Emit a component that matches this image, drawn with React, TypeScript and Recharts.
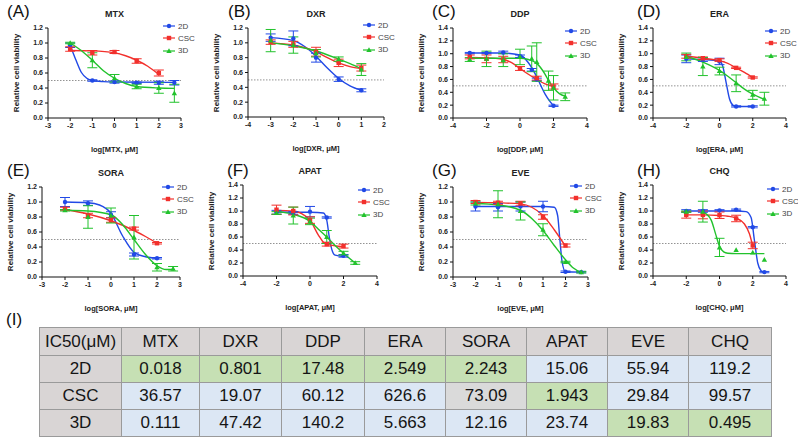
import React from "react";
import { ComposedChart, Line, Scatter, ErrorBar, XAxis, YAxis, ReferenceLine } from "recharts";

const BLUE = "#2149e6";
const RED = "#f2302c";
const GREEN = "#22c22c";
const FONT = '"Liberation Sans", Arial, sans-serif';

const groups = ["2D", "CSC", "3D"];

// measured points: [log dose, viability, sd]
const mtx2D = [[-2, 0.97, 0.03], [-1, 0.5, 0.01], [0, 0.48, 0.015], [1, 0.47, 0.01], [2, 0.47, 0.02], [2.7, 0.47, 0.03]];
const mtxCSC = [[-2, 0.92, 0.03], [-1, 0.87, 0.03], [0, 0.88, 0.02], [1, 0.76, 0.03], [2, 0.6, 0.04]];
const mtx3D = [[-2, 1.0, 0.01], [-1, 0.77, 0.1], [0, 0.53, 0.05], [1, 0.42, 0.03], [2, 0.4, 0.07], [2.7, 0.33, 0.12]];
const dxr2D = [[-3, 1.07, 0.05], [-2, 1.06, 0.1], [-1, 0.8, 0.06], [0, 0.51, 0.03], [1, 0.36, 0.02]];
const dxrCSC = [[-3, 1.01, 0.03], [-2, 0.98, 0.04], [-1, 0.88, 0.06], [0, 0.73, 0.05], [1, 0.66, 0.04]];
const dxr3D = [[-3, 1.03, 0.15], [-2, 0.97, 0.11], [-1, 0.86, 0.05], [0, 0.78, 0.03], [1, 0.64, 0.08]];
const ddp2D = [[-3, 1.01, 0.01], [-2, 1.01, 0.01], [-1, 1.02, 0.02], [0, 0.96, 0.02], [0.7, 0.75, 0.02], [1, 0.6, 0.02], [2, 0.19, 0.01]];
const ddpCSC = [[-3, 0.95, 0.03], [-2, 0.92, 0.06], [-1, 0.91, 0.05], [0, 0.77, 0.03], [1, 0.62, 0.03], [2, 0.49, 0.04]];
const ddp3D = [[-3, 0.91, 0.03], [-2, 0.92, 0.12], [-1, 0.9, 0.1], [0, 0.95, 0.12], [0.7, 0.92, 0.2], [1, 0.87, 0.3], [1.7, 0.58, 0.15], [2, 0.47, 0.19], [2.7, 0.33, 0.06]];
const era2D = [[-2, 0.92, 0.06], [-1, 0.91, 0.03], [0, 0.88, 0.05], [1, 0.18, 0.01], [2, 0.18, 0.01]];
const eraCSC = [[-2, 0.96, 0.03], [-1, 0.93, 0.02], [0, 0.9, 0.02], [1, 0.78, 0.01], [2, 0.63, 0.01]];
const era3D = [[-2, 0.95, 0.06], [-1, 0.8, 0.14], [0, 0.73, 0.06], [1, 0.54, 0.13], [2, 0.36, 0.07], [2.7, 0.3, 0.1]];
const sora2D = [[-2, 1.0, 0.06], [-1, 0.985, 0.03], [0, 0.83, 0.04], [1, 0.3, 0.02], [2, 0.25, 0.01]];
const soraCSC = [[-2, 0.91, 0.02], [-1, 0.82, 0.03], [0, 0.76, 0.03], [1, 0.645, 0.02], [2, 0.45, 0.01]];
const sora3D = [[-2, 0.89, 0.01], [-1, 0.8, 0.15], [0, 0.82, 0.1], [1, 0.53, 0.29], [2, 0.13, 0.05], [2.7, 0.11, 0.03]];
const apat2D = [[-2, 0.98, 0.03], [-1, 0.97, 0.02], [0, 0.99, 0.08], [1, 0.9, 0.01], [2, 0.31, 0.02]];
const apatCSC = [[-2, 1.02, 0.07], [-1, 1.0, 0.06], [0, 0.86, 0.05], [1, 0.49, 0.03], [2, 0.46, 0.03]];
const apat3D = [[-2, 0.97, 0.02], [-1, 0.93, 0.13], [0, 0.84, 0.05], [1, 0.6, 0.1], [2, 0.35, 0.03], [2.7, 0.2, 0.02]];
const eve2D = [[-2, 0.94, 0.06], [-1, 0.93, 0.05], [0, 0.94, 0.06], [1, 0.94, 0.07], [2, 0.07, 0.01], [2.7, 0.065, 0.01]];
const eveCSC = [[-2, 1.0, 0.02], [-1, 0.99, 0.02], [0, 0.98, 0.03], [1, 0.8, 0.03], [2, 0.42, 0.02]];
const eve3D = [[-2, 0.98, 0.02], [-1, 0.97, 0.18], [0, 0.88, 0.12], [1, 0.63, 0.08], [2, 0.2, 0.01], [2.7, 0.065, 0.01]];
const chq2D = [[-2, 1.0, 0.02], [-1, 1.0, 0.02], [0, 1.01, 0.01], [1, 1.02, 0.01], [2, 0.75, 0.01], [2.7, 0.06, 0.01]];
const chqCSC = [[-2, 0.94, 0.05], [-1, 0.94, 0.06], [0, 0.935, 0.05], [1, 0.885, 0.05], [2, 0.47, 0.05]];
const chq3D = [[-2, 0.99, 0.01], [-1, 0.99, 0.16], [0, 0.44, 0.14], [1, 0.4, 0], [2, 0.36, 0], [2.7, 0.25, 0]];

// fitted curves as they appear in the figure: [log dose, viability]
const mtx2DFit = [[-2, 0.97], [-1.75, 0.78], [-1.5, 0.61], [-1.25, 0.53], [-1, 0.5], [-0.5, 0.485], [0, 0.48], [2.7, 0.475]];
const mtxCSCFit = [[-2, 0.9], [-1, 0.895], [0, 0.87], [0.5, 0.83], [1, 0.77], [1.5, 0.69], [2, 0.58]];
const mtx3DFit = [[-2, 1.0], [-1.5, 0.9], [-1, 0.77], [-0.5, 0.63], [0, 0.53], [0.5, 0.46], [1, 0.42], [2, 0.4], [2.7, 0.395]];
const dxr2DFit = [[-3, 1.07], [-2, 1.03], [-1.5, 0.95], [-1, 0.82], [-0.5, 0.66], [0, 0.52], [0.5, 0.42], [1, 0.36]];
const dxrCSCFit = [[-3, 1.0], [-2, 0.97], [-1, 0.88], [-0.5, 0.8], [0, 0.73], [0.5, 0.68], [1, 0.655]];
const dxr3DFit = [[-3, 1.0], [-2, 0.96], [-1, 0.89], [0, 0.78], [0.5, 0.72], [1, 0.65]];
const ddp2DFit = [[-3, 1.01], [-1, 1.01], [0, 0.98], [0.5, 0.86], [1, 0.64], [1.25, 0.5], [1.5, 0.37], [1.75, 0.27], [2, 0.19]];
const ddpCSCFit = [[-3, 0.94], [-2, 0.935], [-1, 0.91], [-0.5, 0.86], [0, 0.77], [0.5, 0.68], [1, 0.6], [1.5, 0.53], [2, 0.49]];
const ddp3DFit = [[-3, 0.93], [0, 0.93], [0.5, 0.91], [1, 0.85], [1.5, 0.68], [1.75, 0.56], [2, 0.47], [2.35, 0.38], [2.7, 0.34]];
const era2DFit = [[-2, 0.92], [-1, 0.91], [0, 0.89], [0.2, 0.8], [0.4, 0.55], [0.6, 0.3], [0.8, 0.2], [1, 0.18], [2, 0.18]];
const eraCSCFit = [[-2, 0.96], [-1, 0.93], [0, 0.89], [0.5, 0.85], [1, 0.78], [1.5, 0.71], [2, 0.63]];
const era3DFit = [[-2, 0.96], [-1, 0.87], [0, 0.74], [0.5, 0.65], [1, 0.55], [1.5, 0.45], [2, 0.37], [2.7, 0.29]];
const sora2DFit = [[-2, 1.0], [-1, 0.99], [-0.5, 0.96], [0, 0.85], [0.5, 0.55], [1, 0.33], [1.5, 0.27], [2, 0.25]];
const soraCSCFit = [[-2, 0.9], [-1, 0.84], [0, 0.75], [1, 0.62], [1.5, 0.54], [2, 0.45]];
const sora3DFit = [[-2, 0.89], [-1, 0.88], [0, 0.83], [0.5, 0.7], [1, 0.5], [1.5, 0.3], [2, 0.15], [2.4, 0.1], [2.7, 0.1]];
const apat2DFit = [[-2, 0.985], [0, 0.98], [0.8, 0.97], [1, 0.86], [1.15, 0.6], [1.3, 0.41], [1.5, 0.32], [2, 0.3]];
const apatCSCFit = [[-2, 1.01], [-1, 1.0], [-0.5, 0.96], [0, 0.86], [0.5, 0.63], [0.8, 0.52], [1, 0.49], [2, 0.45]];
const apat3DFit = [[-2, 0.99], [-1, 0.95], [0, 0.84], [0.5, 0.72], [1, 0.6], [1.5, 0.47], [2, 0.35], [2.7, 0.2]];
const eve2DFit = [[-2, 0.94], [1, 0.94], [1.5, 0.93], [1.65, 0.82], [1.75, 0.5], [1.85, 0.2], [2, 0.07], [2.7, 0.065]];
const eveCSCFit = [[-2, 0.995], [-1, 0.99], [0, 0.975], [0.5, 0.93], [1, 0.82], [1.5, 0.63], [2, 0.41]];
const eve3DFit = [[-2, 0.98], [-1, 0.96], [0, 0.89], [0.5, 0.78], [1, 0.62], [1.5, 0.42], [2, 0.23], [2.35, 0.12], [2.7, 0.06]];
const chq2DFit = [[-2, 1.0], [1, 1.0], [1.6, 0.99], [1.9, 0.9], [2.1, 0.55], [2.3, 0.2], [2.5, 0.08], [2.7, 0.05]];
const chqCSCFit = [[-2, 0.94], [-1, 0.94], [0, 0.93], [0.5, 0.92], [1, 0.89], [1.5, 0.8], [1.8, 0.65], [2, 0.46]];
const chq3DFit = [[-1, 0.99], [-0.5, 0.86], [-0.25, 0.66], [0, 0.46], [0.25, 0.37], [0.5, 0.35], [1, 0.345], [2.7, 0.345]];

// IC50 table
const drugs = ["MTX", "DXR", "DDP", "ERA", "SORA", "APAT", "EVE", "CHQ"];
const ic2D = ["0.018", "0.801", "17.48", "2.549", "2.243", "15.06", "55.94", "119.2"];
const icCSC = ["36.57", "19.07", "60.12", "626.6", "73.09", "1.943", "29.84", "99.57"];
const ic3D = ["0.111", "47.42", "140.2", "5.663", "12.16", "23.74", "19.83", "0.495"];
const shade2D = ["g", "g", "g", "g", "g", "b", "b", "b"];
const shadeCSC = ["b", "b", "b", "b", "x", "g", "b", "b"];
const shade3D = ["b", "b", "b", "b", "b", "b", "g", "g"];

const toPts = (a: number[][]) => a.map(([x, y, err]) => ({ x, y, err }));
const toFit = (a: number[][]) => a.map(([x, y]) => ({ x, y }));

const colors = [BLUE, RED, GREEN];

const Marker = ({ kind, cx, cy }: any) => {
  if (kind === 0) return <circle cx={cx} cy={cy} r={2.2} fill={BLUE} />;
  if (kind === 1) return <rect x={cx - 2.2} y={cy - 2.2} width={4.4} height={4.4} fill={RED} />;
  return <polygon points={`${cx},${cy - 2.8} ${cx - 2.7},${cy + 2} ${cx + 2.7},${cy + 2}`} fill={GREEN} />;
};

const panels = [
  { tag: "(A)", drug: "MTX", tagPos: [7, 3], plot: [48, 28, 133, 90], yMax: 1.2, xd: [-3, 3], xt: [-3, -2, -1, 0, 1, 2, 3], leg: [163, 26], s: [[mtx2D, mtx2DFit], [mtxCSC, mtxCSCFit], [mtx3D, mtx3DFit]] },
  { tag: "(B)", drug: "DXR", tagPos: [228, 3], plot: [248, 28, 136, 89], yMax: 1.2, xd: [-4, 2], xt: [-4, -3, -2, -1, 0, 1, 2], leg: [363, 25], s: [[dxr2D, dxr2DFit], [dxrCSC, dxrCSCFit], [dxr3D, dxr3DFit]] },
  { tag: "(C)", drug: "DDP", tagPos: [432, 3], plot: [453, 28, 134, 90], yMax: 1.4, xd: [-4, 4], xt: [-4, -2, 0, 2, 4], leg: [565, 31], s: [[ddp2D, ddp2DFit], [ddpCSC, ddpCSCFit], [ddp3D, ddp3DFit]] },
  { tag: "(D)", drug: "ERA", tagPos: [637, 3], plot: [653, 28, 133, 90], yMax: 1.4, xd: [-4, 4], xt: [-4, -2, 0, 2, 4], leg: [765, 31], s: [[era2D, era2DFit], [eraCSC, eraCSCFit], [era3D, era3DFit]] },
  { tag: "(E)", drug: "SORA", tagPos: [7, 162], plot: [42, 187, 138, 90], yMax: 1.2, xd: [-3, 3], xt: [-3, -2, -1, 0, 1, 2, 3], leg: [162, 187], s: [[sora2D, sora2DFit], [soraCSC, soraCSCFit], [sora3D, sora3DFit]] },
  { tag: "(F)", drug: "APAT", tagPos: [227, 162], plot: [243, 185, 134, 91], yMax: 1.4, xd: [-4, 4], xt: [-4, -2, 0, 2, 4], leg: [358, 190], s: [[apat2D, apat2DFit], [apatCSC, apatCSCFit], [apat3D, apat3DFit]] },
  { tag: "(G)", drug: "EVE", tagPos: [432, 162], plot: [453, 187, 135, 90], yMax: 1.2, xd: [-3, 3], xt: [-3, -2, -1, 0, 1, 2, 3], leg: [570, 186], s: [[eve2D, eve2DFit], [eveCSC, eveCSCFit], [eve3D, eve3DFit]] },
  { tag: "(H)", drug: "CHQ", tagPos: [637, 162], plot: [653, 185, 133, 91], yMax: 1.4, xd: [-4, 4], xt: [-4, -2, 0, 2, 4], leg: [767, 189], s: [[chq2D, chq2DFit], [chqCSC, chqCSCFit], [chq3D, chq3DFit]] },
];

const tickStyle = { fontSize: 7, fill: "#222", fontWeight: 700, fontFamily: FONT };

function Panel({ p }: any) {
  const [px, py, pw, ph] = p.plot;
  const yTicks: number[] = [];
  for (let v = 0; v <= p.yMax + 1e-9; v += 0.2) yTicks.push(Math.round(v * 10) / 10);
  const cxp = px + pw / 2;
  return (
    <>
      <div style={{ position: "absolute", left: p.tagPos[0], top: p.tagPos[1], fontSize: 17, fontFamily: FONT, lineHeight: 1, color: "#111" }}>{p.tag}</div>
      <div style={{ position: "absolute", left: cxp - 40, width: 80, top: py - 20, textAlign: "center", fontSize: 9, fontWeight: 700, fontFamily: FONT, lineHeight: "12px", color: "#222" }}>{p.drug}</div>
      <div style={{ position: "absolute", left: px - 31 - 60, top: py + ph / 2 - 6, width: 120, textAlign: "center", transform: "rotate(-90deg)", fontSize: 8, fontWeight: 700, fontFamily: FONT, lineHeight: "12px", color: "#222", whiteSpace: "nowrap" }}>Relative cell viability</div>
      <div style={{ position: "absolute", left: cxp - 50, width: 100, top: py + ph + 26, textAlign: "center", fontSize: 7.5, fontWeight: 700, fontFamily: FONT, lineHeight: "12px", color: "#222" }}>{`log[${p.drug}, μM]`}</div>
      <div style={{ position: "absolute", left: px - 45, top: py - 10 }}>
        <ComposedChart width={pw + 55} height={ph + 30} margin={{ top: 10, right: 10, left: 0, bottom: 0 }}>
          <XAxis type="number" dataKey="x" domain={p.xd} ticks={p.xt} interval={0} height={20} tickSize={3} tick={tickStyle} stroke="#111" allowDataOverflow />
          <YAxis type="number" dataKey="y" domain={[0, p.yMax]} ticks={yTicks} interval={0} width={45} tickSize={3} tick={tickStyle} stroke="#111" tickFormatter={(v: number) => v.toFixed(1)} allowDataOverflow />
          <ReferenceLine y={0.5} stroke="#777" strokeDasharray="1.5 1.5" strokeWidth={0.8} />
          {p.s.map((s: any, i: number) => (
            <Line key={"f" + i} data={toFit(s[1])} dataKey="y" type="monotone" stroke={colors[i]} strokeWidth={1.4} dot={false} activeDot={false} isAnimationActive={false} />
          ))}
          {p.s.map((s: any, i: number) => (
            <Scatter key={"p" + i} data={toPts(s[0])} isAnimationActive={false} shape={(props: any) => <Marker kind={i} cx={props.cx} cy={props.cy} />}>
              <ErrorBar dataKey="err" direction="y" width={5} stroke={colors[i]} strokeWidth={1} />
            </Scatter>
          ))}
        </ComposedChart>
      </div>
      {groups.map((g, i) => (
        <div key={g} style={{ position: "absolute", left: p.leg[0], top: p.leg[1] + i * 12.3 - 6, height: 12, display: "flex", alignItems: "center" }}>
          <svg width={12} height={12}>
            <line x1={0} y1={6} x2={12} y2={6} stroke={colors[i]} strokeWidth={1.2} />
            <Marker kind={i} cx={6} cy={6} />
          </svg>
          <span style={{ marginLeft: 3, fontSize: 8, fontFamily: FONT, color: "#444" }}>{g}</span>
        </div>
      ))}
    </>
  );
}

const shadeColor: any = { g: "#c6e0b4", b: "#dce7f4", x: "#dadada" };
const HEAD = "#d9d5d5";
const colW = [81, 77, 81, 82, 80, 80, 80, 80, 82];

function IcTable() {
  const cell = (bg: string, w: number, h: number) => ({
    background: bg, width: w, height: h, border: "1px solid #9a9a9a", padding: 0, textAlign: "center" as const,
    fontSize: 17, fontFamily: FONT, color: "#151515",
  });
  const rows: [string, string[], string[]][] = [["2D", ic2D, shade2D], ["CSC", icCSC, shadeCSC], ["3D", ic3D, shade3D]];
  return (
    <table style={{ position: "absolute", left: 39, top: 327, borderCollapse: "collapse", tableLayout: "fixed" }}>
      <tbody>
        <tr>
          <td style={cell(HEAD, colW[0], 27)}>IC50(μM)</td>
          {drugs.map((d, j) => <td key={d} style={cell(HEAD, colW[j + 1], 27)}>{d}</td>)}
        </tr>
        {rows.map(([name, vals, sh]) => (
          <tr key={name}>
            <td style={cell(HEAD, colW[0], 26)}>{name}</td>
            {vals.map((v, j) => <td key={j} style={cell(shadeColor[sh[j]], colW[j + 1], 26)}>{v}</td>)}
          </tr>
        ))}
      </tbody>
    </table>
  );
}

export default function App() {
  return (
    <div style={{ position: "absolute", left: 0, top: 0, width: 798, height: 438, background: "#fff", overflow: "hidden" }}>
      {panels.map((p) => <Panel key={p.tag} p={p} />)}
      <div style={{ position: "absolute", left: 6, top: 311, fontSize: 17, fontFamily: FONT, lineHeight: 1, color: "#111" }}>(I)</div>
      <IcTable />
    </div>
  );
}
